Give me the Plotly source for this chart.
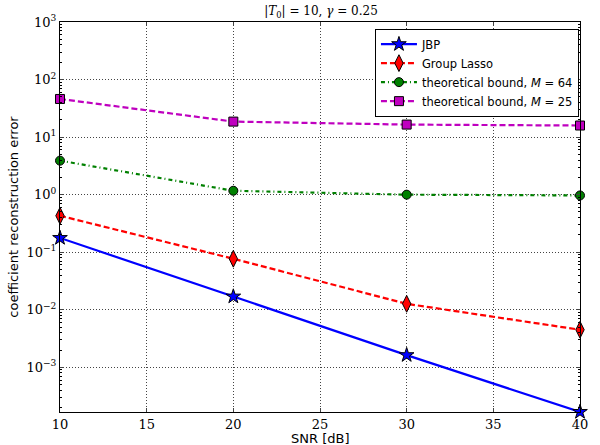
import plotly.graph_objects as go

snr = [10, 20, 30, 40]
jbp = [0.177, 0.017, 0.00163, 0.000168]
group_lasso = [0.43, 0.077, 0.0127, 0.0045]
bound_m64 = [3.9, 1.17, 1.0, 0.97]
bound_m25 = [46, 18.6, 16.5, 15.9]

names = ["JBP", "Group Lasso", "theoretical bound, <i>M</i> = 64", "theoretical bound, <i>M</i> = 25"]
series = [jbp, group_lasso, bound_m64, bound_m25]
colors = ["#0000ff", "#ff0000", "#008000", "#bf00bf"]
dashes = ["solid", "6px,3px", "4px,3px,1px,3px", "6px,3px"]
symbols = ["star", "diamond-tall", "circle", "square"]
msizes = [11, 12, 9, 9]

ytick_vals = [1e-3, 1e-2, 1e-1, 1, 10, 100, 1000]
ytick_text = ["10<sup>\u22123</sup>", "10<sup>\u22122</sup>", "10<sup>\u22121</sup>",
              "10<sup>0</sup>", "10<sup>1</sup>", "10<sup>2</sup>", "10<sup>3</sup>"]
minor_vals = [m * 10.0 ** e for e in range(-4, 3) for m in range(2, 10)]
xtick_vals = [10, 15, 20, 25, 30, 35, 40]

fig = go.Figure()
for n, s, c, d, sym, ms in zip(names, series, colors, dashes, symbols, msizes):
    fig.add_trace(go.Scatter(
        x=snr, y=s, name=n, mode="lines+markers",
        line=dict(color=c, width=2.2, dash=d),
        marker=dict(symbol=sym, size=ms, color=c, line=dict(color="black", width=1)),
        cliponaxis=False,
    ))

serif = "DejaVu Serif"
sans = "DejaVu Sans"
fig.update_layout(
    width=600, height=445,
    margin=dict(l=60, r=20, t=22, b=33),
    paper_bgcolor="white", plot_bgcolor="white",
    title=dict(text="|<i>T</i><sub>0</sub>| = 10, <i>\u03b3</i> = 0.25", x=0.535, xanchor="center",
               y=0.985, yanchor="top", font=dict(family=serif, size=12, color="black")),
    showlegend=True,
    legend=dict(x=0.998, y=0.983, xanchor="right", yanchor="top",
                bordercolor="black", borderwidth=1, bgcolor="white",
                font=dict(family=sans, size=11.5, color="black"),
                tracegroupgap=0, itemwidth=36),
    font=dict(family=sans, color="black"),
    annotations=[dict(text="SNR [dB]", xref="paper", yref="paper", x=0.5, y=0,
                      xanchor="center", yanchor="top", yshift=-17, showarrow=False,
                      font=dict(family=sans, size=13, color="black"))],
)
fig.update_xaxes(
    range=[10, 40], tickvals=xtick_vals, ticks="inside", ticklen=4,
    tickfont=dict(family=serif, size=13, color="black"),
    showline=True, linecolor="black", linewidth=1, mirror="ticks",
    showgrid=True, gridcolor="#444", griddash="1px,2px", gridwidth=1,
    zeroline=False, automargin=False,
)
fig.update_yaxes(
    type="log", range=[-3.776, 3], tickvals=ytick_vals, ticktext=ytick_text,
    ticks="inside", ticklen=4,
    tickfont=dict(family=serif, size=13, color="black"),
    showline=True, linecolor="black", linewidth=1, mirror="ticks",
    showgrid=True, gridcolor="#444", griddash="1px,2px", gridwidth=1,
    zeroline=False, automargin=False,
    minor=dict(tickmode="array", tickvals=minor_vals, ticks="inside", ticklen=2,
               tickcolor="black", showgrid=False),
    title=dict(text="coefficient reconstruction error", font=dict(family=sans, size=13, color="black"), standoff=4),
)
fig.write_html("out.html")
